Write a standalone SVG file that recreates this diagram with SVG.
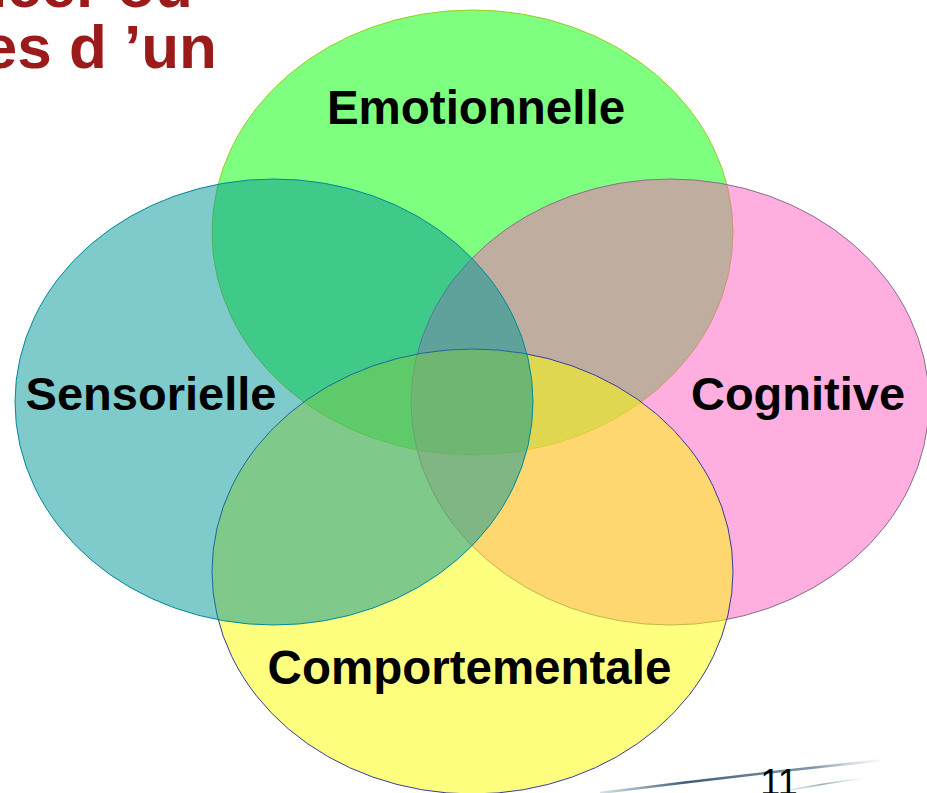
<svg xmlns="http://www.w3.org/2000/svg" width="927" height="793" viewBox="0 0 927 793">
<defs>
<style>
.lbl{font-family:"Liberation Sans",Arial,sans-serif;font-weight:bold;fill:#000;text-anchor:middle}
.ttl{font-family:"Liberation Sans",Arial,sans-serif;font-weight:bold;fill:#9b1a1a;font-size:62px;text-anchor:end}
.el{fill-opacity:0.5;stroke-width:1}
</style>
<linearGradient id="sw1" x1="600" y1="793" x2="885" y2="760" gradientUnits="userSpaceOnUse">
<stop offset="0" stop-color="#3a6a8a" stop-opacity="0.2"/>
<stop offset="0.3" stop-color="#2a4a66" stop-opacity="0.9"/>
<stop offset="0.75" stop-color="#4a6a86" stop-opacity="0.7"/>
<stop offset="1" stop-color="#8aa0b8" stop-opacity="0"/>
</linearGradient>
<linearGradient id="sw2" x1="780" y1="792" x2="865" y2="778" gradientUnits="userSpaceOnUse">
<stop offset="0" stop-color="#6a8aa0" stop-opacity="0"/>
<stop offset="0.5" stop-color="#6a8aa0" stop-opacity="0.7"/>
<stop offset="1" stop-color="#9ab0c0" stop-opacity="0"/>
</linearGradient>
</defs>
<rect width="927" height="793" fill="#ffffff"/>
<g id="title">
<text class="ttl" x="193" y="7">Influencer ou</text>
<text class="ttl" x="217" y="68">es d ’un</text>
</g>
<g id="decor">
<path d="M600 793 Q 740 775 885 760" fill="none" stroke="url(#sw1)" stroke-width="2.5"/>
<path d="M780 792 Q 820 784 865 778" fill="none" stroke="url(#sw2)" stroke-width="1.5"/>
<text x="779" y="795" font-family="Liberation Sans, Arial, sans-serif" font-size="36" fill="#000" text-anchor="middle">11</text>
</g>
<g id="emotionnelle">
<ellipse class="el" cx="472.5" cy="232.5" rx="260.5" ry="222.5" fill="#00ff00" stroke="#99cc22"/>
<text class="lbl" x="476" y="124" font-size="47.5">Emotionnelle</text>
</g>
<g id="cognitive">
<ellipse class="el" cx="670" cy="402" rx="259" ry="223" fill="#ff5dc1" stroke="#8a708a"/>
<text class="lbl" x="798" y="410" font-size="47">Cognitive</text>
</g>
<g id="comportementale">
<ellipse class="el" cx="472.5" cy="571.5" rx="260.5" ry="222.5" fill="#ffff00" stroke="#3a3aa0"/>
<text class="lbl" x="469.5" y="684" font-size="47.5">Comportementale</text>
</g>
<g id="sensorielle">
<ellipse class="el" cx="274" cy="402" rx="259" ry="223" fill="#009595" stroke="#008a9a"/>
<text class="lbl" x="151" y="410" font-size="47">Sensorielle</text>
</g>
</svg>
